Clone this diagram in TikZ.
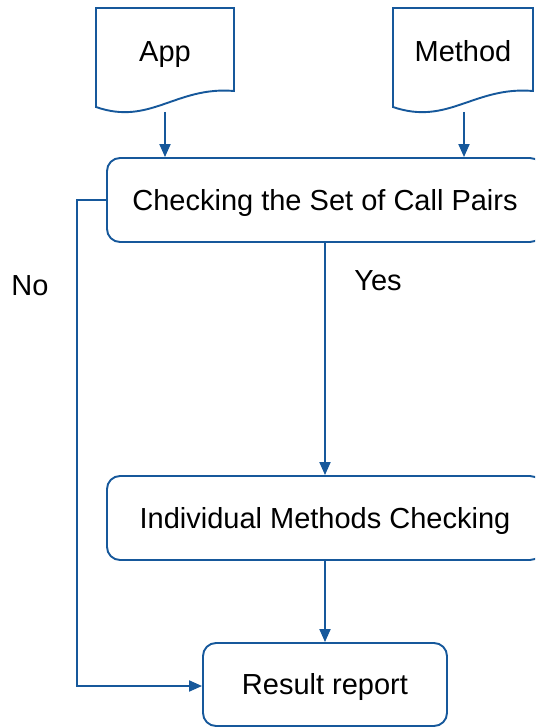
\documentclass[tikz,border=0pt]{standalone}
\usepackage{fontspec}
\setmainfont{Liberation Sans}
\usetikzlibrary{arrows.meta}
\definecolor{lineblue}{RGB}{22,88,155}
\tikzset{
  flow/.style={draw=lineblue, line width=1.9pt, rounded corners=13pt, align=center, font=\fontsize{29}{34}\selectfont, inner sep=0pt, text height=20.8pt, text depth=0pt},
  doc/.style={draw=lineblue, line width=1.9pt, line join=miter},
  lbl/.style={font=\fontsize{29}{34}\selectfont, inner sep=0pt, text height=20.8pt, text depth=0pt},
  conn/.style={draw=lineblue, line width=1.9pt, -{Triangle[length=13pt,width=11pt]}}
}
\begin{document}
\begin{tikzpicture}[x=1pt,y=-1pt]
\clip (0,0) rectangle (535,727);
\fill[white] (0,0) rectangle (535,727);
% documents
\draw[doc] (96,107) -- (96,8) -- (234,8) -- (234,91)
  .. controls (176,86) and (150,126) .. (96,107) -- cycle;
\draw[doc] (393,107) -- (393,8) -- (533,8) -- (533,91)
  .. controls (474,86) and (448,126) .. (393,107) -- cycle;
\node[lbl] (app) at (165,51) {App};
\node[lbl] (method) at (463,51) {Method};
\coordinate (appout) at (165,112);
\coordinate (methout) at (464,112);
% boxes
\node[flow, minimum width=436pt, minimum height=84pt] (check) at (325,200) {Checking the Set of Call Pairs};
\node[flow, minimum width=436pt, minimum height=84pt] (indiv) at (325,518) {Individual Methods Checking};
\node[flow, minimum width=244pt, minimum height=83pt] (result) at (325,684.5) {Result report};
% labels
\node[lbl] (yes) at (378,280) {Yes};
\node[lbl] (no) at (30,285) {No};
% connectors
\draw[conn] (appout) -- (appout |- check.north);
\draw[conn] (methout) -- (methout |- check.north);
\draw[conn] (check.south) -- (indiv.north);
\draw[conn] (indiv.south) -- (result.north);
\coordinate (lcorner1) at (77,200);
\coordinate (lcorner2) at (77,686);
\draw[conn] (check.west) -- (lcorner1) -- (lcorner2) -- (lcorner2 -| result.west);
\end{tikzpicture}
\end{document}
